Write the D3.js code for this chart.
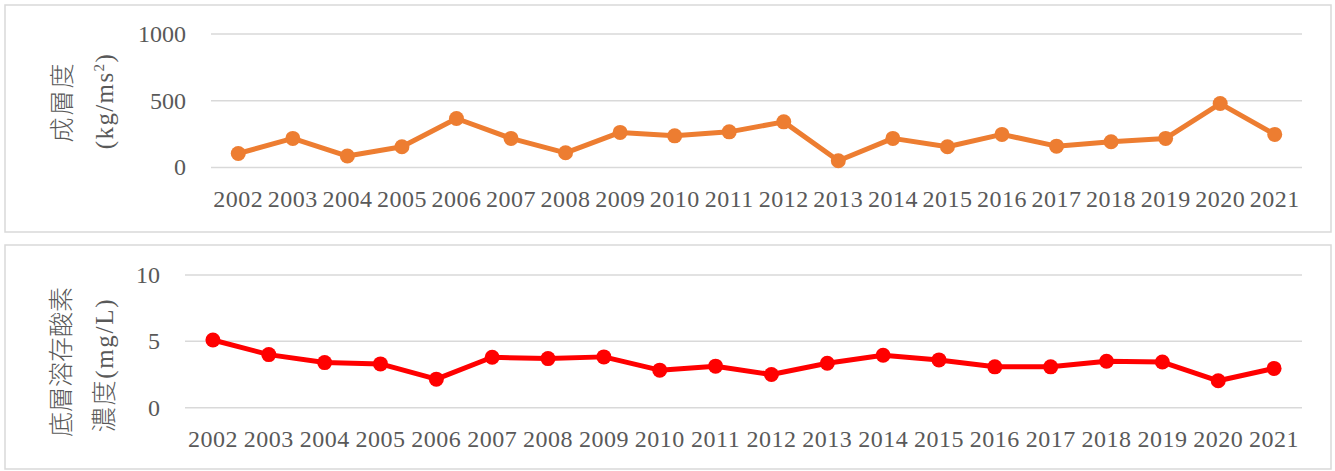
<!DOCTYPE html>
<html>
<head>
<meta charset="utf-8">
<script src="https://cdnjs.cloudflare.com/ajax/libs/d3/7.8.5/d3.min.js"></script>
<style>
  body { margin: 0; background: #fff; }
  text { font-family: "Liberation Serif", "Noto Sans CJK JP", serif; fill: #595959; }
</style>
</head>
<body>
<div id="chart"></div>
<script>
var width = 1335,
    height = 471;

var years = ["2002","2003","2004","2005","2006","2007","2008","2009","2010","2011",
             "2012","2013","2014","2015","2016","2017","2018","2019","2020","2021"];

// 成層度 (kg/ms2)
var stratification = [105, 218, 86, 155, 367, 218, 110, 263, 237, 267,
                      342, 51, 218, 155, 248, 160, 193, 218, 479, 248];

// 底層溶存酸素濃度 (mg/L)
var bottomDO = [5.1, 4.0, 3.4, 3.3, 2.15, 3.8, 3.7, 3.83, 2.83, 3.13,
                2.5, 3.35, 3.95, 3.6, 3.08, 3.08, 3.5, 3.44, 2.03, 2.96];

var topTicks = [0, 500, 1000],
    bottomTicks = [0, 5, 10];

var svg = d3.select("#chart")
    .append("svg")
    .attr("width", width)
    .attr("height", height);

function drawPanel(p) {
  var g = svg.append("g");

  g.append("rect")
      .attr("x", p.box[0]).attr("y", p.box[1])
      .attr("width", p.box[2]).attr("height", p.box[3])
      .attr("fill", "#fff")
      .attr("stroke", "#d9d9d9")
      .attr("stroke-width", 1.5);

  var x = d3.scaleBand()
      .domain(years)
      .range([p.left, p.right]);

  var y = d3.scaleLinear()
      .domain([0, p.ticks[p.ticks.length - 1]])
      .range([p.bottom, p.top]);

  // gridlines
  g.selectAll(".grid")
    .data(p.ticks)
    .enter().append("line")
      .attr("x1", p.left).attr("x2", p.right)
      .attr("y1", function(d) { return y(d); })
      .attr("y2", function(d) { return y(d); })
      .attr("stroke", "#d9d9d9")
      .attr("stroke-width", 1.5);

  // y tick labels
  g.selectAll(".ytick")
    .data(p.ticks)
    .enter().append("text")
      .attr("x", p.left - 25)
      .attr("y", function(d) { return y(d); })
      .attr("dy", "0.33em")
      .attr("text-anchor", "end")
      .style("font-size", "24px")
      .text(function(d) { return d; });

  // x labels
  g.selectAll(".xtick")
    .data(years)
    .enter().append("text")
      .attr("x", function(d) { return x(d) + x.bandwidth() / 2; })
      .attr("y", p.bottom + 39.5)
      .attr("text-anchor", "middle")
      .style("font-size", "24px")
      .style("letter-spacing", "0.5px")
      .text(function(d) { return d; });

  var line = d3.line()
      .x(function(d, i) { return x(years[i]) + x.bandwidth() / 2; })
      .y(function(d) { return y(d); });

  g.append("path")
      .datum(p.values)
      .attr("d", line)
      .attr("fill", "none")
      .attr("stroke", p.color)
      .attr("stroke-width", 5)
      .attr("stroke-linejoin", "round");

  g.selectAll(".dot")
    .data(p.values)
    .enter().append("circle")
      .attr("cx", function(d, i) { return x(years[i]) + x.bandwidth() / 2; })
      .attr("cy", function(d) { return y(d); })
      .attr("r", 7.5)
      .attr("fill", p.color);

  // rotated two-line title
  p.title.forEach(function(t) {
    var tx = g.append("text")
        .attr("transform", "translate(" + t.x + "," + t.y + ") rotate(-90)")
        .attr("text-anchor", "middle")
        .attr("dy", "0.35em")
        .style("font-size", "25px")
        .style("font-weight", 300)
        .style("letter-spacing", t.ls || "0px");
    t.parts.forEach(function(s) {
      var ts = tx.append("tspan").text(s.text);
      if (s.sup) ts.attr("dy", -9).style("font-size", "15px");
      if (s.after) ts.attr("dy", 9);
    });
  });
}

drawPanel({
  box: [5, 5, 1326, 227],
  left: 211, right: 1302, top: 34, bottom: 167.5,
  ticks: topTicks,
  values: stratification,
  color: "#ed7d31",
  title: [
    {x: 62, y: 102, ls: "2px", parts: [{text: "成層度"}]},
    {x: 104, y: 101, ls: "1.4px", parts: [{text: "(kg/ms"}, {text: "2", sup: true}, {text: ")", after: true}]}
  ]
});

drawPanel({
  box: [5, 245, 1326, 224],
  left: 185, right: 1302, top: 275, bottom: 407.7,
  ticks: bottomTicks,
  values: bottomDO,
  color: "#ff0000",
  title: [
    {x: 61, y: 362, parts: [{text: "底層溶存酸素"}]},
    {x: 104, y: 365, ls: "1.7px", parts: [{text: "濃度(mg/L)"}]}
  ]
});
</script>
</body>
</html>
